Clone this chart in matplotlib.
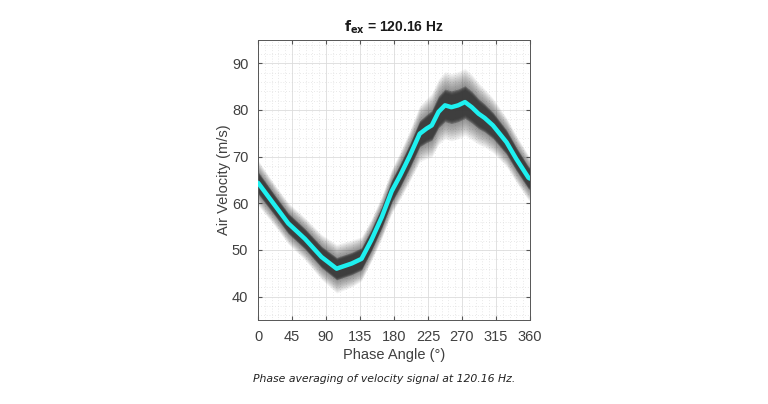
import numpy as np
import matplotlib.pyplot as plt
from matplotlib.ticker import MultipleLocator

# phase-averaged velocity
phase = [0, 22.5, 40, 62, 84, 104, 124, 137, 150, 164, 177, 188, 201, 214,
         223, 230, 239, 247.5, 256, 265, 274, 283, 292, 300, 311, 329, 342, 358, 360]
mean_vel = [64.4, 59.5, 55.7, 52.4, 48.5, 46.0, 47.1, 48.1, 52.1, 57.1, 62.6, 65.9,
            70.2, 74.9, 76.0, 76.7, 79.6, 81.0, 80.6, 81.0, 81.7, 80.6, 79.2, 78.3,
            76.7, 73.1, 69.5, 65.5, 65.3]
# half-widths of the gray cloud of individual cycles (dense core / faint tails)
core_spread = [2.4, 2.2, 2.2, 2.2, 2.3, 2.4, 2.4, 2.4, 2.3, 2.3, 2.4, 2.5,
               2.6, 2.8, 3.0, 3.2, 3.4, 3.5, 3.5, 3.5, 3.5, 3.4, 3.2, 3.0,
               2.8, 2.6, 2.5, 2.4, 2.4]
tail_spread = [4.8, 4.4, 4.4, 4.5, 4.8, 5.2, 5.0, 4.7, 4.5, 4.5, 4.7, 5.0,
               5.4, 6.0, 6.4, 6.8, 7.0, 7.2, 7.2, 7.2, 7.2, 7.0, 6.6, 6.2,
               5.8, 5.2, 5.0, 4.8, 4.8]

freq_label = "120.16"

plt.rcParams['font.family'] = ['Liberation Sans', 'DejaVu Sans']

fig = plt.figure(figsize=(7.68, 4.04), dpi=100)
ax = fig.add_axes([0.336, 0.208, 0.354, 0.693])

ph = np.array(phase)
m = np.array(mean_vel)
c = np.array(core_spread)
t = np.array(tail_spread)

# soft cloud: stack of thin translucent bands from tails inwards
n_layers = 10
for k in range(n_layers, 0, -1):
    hw = c + (t - c) * k / n_layers
    ax.fill_between(ph, m - hw, m + hw, color='#3a3a3a', alpha=0.07, lw=0)
for k in range(4, 0, -1):
    hw = c * (0.7 + 0.3 * k / 4)
    ax.fill_between(ph, m - hw, m + hw, color='#363636', alpha=0.45, lw=0)
ax.plot(ph, m, color='#1ef0f0', lw=3.2, solid_capstyle='round',
        solid_joinstyle='round', zorder=5)

ax.set_xlim(0, 360)
ax.set_ylim(35, 95)
ax.xaxis.set_major_locator(MultipleLocator(45))
ax.xaxis.set_minor_locator(MultipleLocator(9))
ax.yaxis.set_major_locator(MultipleLocator(10))
ax.yaxis.set_minor_locator(MultipleLocator(2))
ax.grid(True, which='major', color='#dcdcdc', lw=0.6)
ax.grid(True, which='minor', color='#d4d4d4', lw=0.5, ls=(0, (1, 3)))
ax.set_axisbelow(True)

ax.tick_params(which='both', direction='in', top=True, right=True,
               colors='#555555', labelcolor='#404040', labelsize=10.5)
ax.tick_params(which='major', length=3, pad=7)
ax.tick_params(which='minor', length=0)
for s in ax.spines.values():
    s.set_color('#555555')
    s.set_linewidth(0.7)

ax.set_xlabel('Phase Angle (°)', fontsize=10.5, color='#404040', labelpad=3)
ax.set_ylabel('Air Velocity (m/s)', fontsize=10.5, color='#404040', labelpad=1)
ax.set_title(r'$\mathbf{f_{ex}}$ = ' + freq_label + ' Hz', fontsize=10,
             fontweight='bold', color='#1a1a1a', pad=6)

fig.text(0.5, 0.061, 'Phase averaging of velocity signal at ' + freq_label + ' Hz.',
         ha='center', va='center', fontsize=7.8, style='italic',
         family='DejaVu Sans', color='#222222')

fig.savefig('out.png', dpi=100)
